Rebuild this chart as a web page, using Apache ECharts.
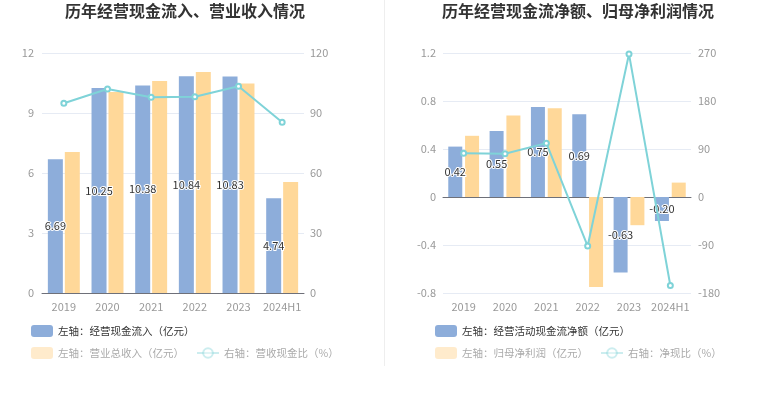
<!DOCTYPE html>
<html>
<head>
<meta charset="utf-8">
<script src="https://cdn.jsdelivr.net/npm/echarts@6/dist/echarts.min.js"></script>
<style>
html,body{margin:0;padding:0;background:#fff;}
#c{width:765px;height:393px;}
</style>
</head>
<body>
<div id="c"></div>
<script>
const categories = ['2019','2020','2021','2022','2023','2024H1'];
// Left chart
const cashInflow = [6.69,10.25,10.38,10.84,10.83,4.74];
const revenue = [7.05,10.05,10.6,11.05,10.47,5.55];
const cashRevenueRatio = [94.9,102,97.9,98.1,103.4,85.4];
// Right chart
const netOperatingCash = [0.42,0.55,0.75,0.69,-0.63,-0.20];
const netProfit = [0.51,0.68,0.74,-0.75,-0.235,0.12];
const netCashRatio = [82,81,101,-92,268,-166];

const leftTicks = {min:0,max:12,interval:3};
const leftRightTicks = {min:0,max:120,interval:30};
const rightTicks = {min:-0.8,max:1.2,interval:0.4};
const rightRightTicks = {min:-180,max:270,interval:90};

const names = {
  a1:'左轴：经营现金流入（亿元）', a2:'左轴：营业总收入（亿元）', a3:'右轴：营收现金比（%）',
  b1:'左轴：经营活动现金流净额（亿元）', b2:'左轴：归母净利润（亿元）', b3:'右轴：净现比（%）'
};

const BLUE = '#8DADDA', ORANGE = '#FFD899', CYAN = '#7FD3D8';
const FONT = '"Noto Sans CJK SC","Noto Sans",sans-serif';
const axisLabel = {color:'#999', fontSize:11, fontFamily:FONT};
const splitLine = {show:true, lineStyle:{color:'#E6EBF4'}};
const barLabel = {show:true, position:'inside', color:'#333', fontSize:11, fontFamily:FONT,
  textBorderColor:'#fff', textBorderWidth:2, formatter:p=>p.value.toFixed(2)};
const LFS = 10.5;

const chart = echarts.init(document.getElementById('c'), null, {renderer:'canvas'});
chart.setOption({
  backgroundColor:'#fff',
  animation:false,
  textStyle:{fontFamily:FONT},
  title:[
    {text:'历年经营现金流入、营业收入情况', left:65, top:3, padding:0, textStyle:{fontSize:16, fontWeight:'bold', color:'#333', fontFamily:FONT}},
    {text:'历年经营现金流净额、归母净利润情况', left:442, top:3, padding:0, textStyle:{fontSize:16, fontWeight:'bold', color:'#333', fontFamily:FONT}}
  ],
  graphic:[{type:'line', shape:{x1:384.5,y1:0,x2:384.5,y2:366}, style:{stroke:'#EEEEEE', lineWidth:1}}],
  legend:[
    {data:[names.a1], left:31, top:325, padding:0, itemWidth:22, itemHeight:12, textStyle:{color:'#333', fontSize:LFS, fontFamily:FONT}},
    {data:[{name:names.a2, itemStyle:{opacity:0.5}, textStyle:{color:'#aaa'}},
           {name:names.a3, itemStyle:{opacity:0.4}, lineStyle:{opacity:0.4}, textStyle:{color:'#aaa'}}],
     left:31, top:347, padding:0, itemGap:12, itemWidth:22, itemHeight:12, textStyle:{color:'#aaa', fontSize:LFS, fontFamily:FONT}},
    {data:[names.b1], left:435, top:325, padding:0, itemWidth:22, itemHeight:12, textStyle:{color:'#333', fontSize:LFS, fontFamily:FONT}},
    {data:[{name:names.b2, itemStyle:{opacity:0.5}, textStyle:{color:'#aaa'}},
           {name:names.b3, itemStyle:{opacity:0.4}, lineStyle:{opacity:0.4}, textStyle:{color:'#aaa'}}],
     left:435, top:347, padding:0, itemGap:12, itemWidth:22, itemHeight:12, textStyle:{color:'#aaa', fontSize:LFS, fontFamily:FONT}}
  ],
  grid:[
    {left:42, right:461, top:53, bottom:100},
    {left:443, right:74, top:53, bottom:100}
  ],
  xAxis:[
    {type:'category', gridIndex:0, data:categories, axisLine:{lineStyle:{color:'#6E7079'}},
     axisTick:{alignWithLabel:true, lineStyle:{color:'#6E7079'}}, axisLabel:Object.assign({margin:8, interval:0}, axisLabel)},
    {type:'category', gridIndex:1, data:categories, axisLine:{onZero:true, lineStyle:{color:'#6E7079'}},
     axisTick:{alignWithLabel:true, lineStyle:{color:'#6E7079'}}, axisLabel:{show:false}},
    {type:'category', gridIndex:1, data:categories, position:'bottom', axisLine:{show:false, onZero:false},
     axisTick:{show:false}, axisLabel:Object.assign({margin:8, interval:0}, axisLabel)}
  ],
  yAxis:[
    Object.assign({type:'value', gridIndex:0, axisLabel:Object.assign({margin:8}, axisLabel), splitLine:splitLine, axisLine:{show:false}, axisTick:{show:false}}, leftTicks),
    Object.assign({type:'value', gridIndex:0, position:'right', axisLabel:Object.assign({margin:6}, axisLabel), splitLine:{show:false}, axisLine:{show:false}, axisTick:{show:false}}, leftRightTicks),
    Object.assign({type:'value', gridIndex:1, axisLabel:Object.assign({margin:7}, axisLabel), splitLine:splitLine, axisLine:{show:false}, axisTick:{show:false}}, rightTicks),
    Object.assign({type:'value', gridIndex:1, position:'right', axisLabel:Object.assign({margin:7}, axisLabel), splitLine:{show:false}, axisLine:{show:false}, axisTick:{show:false}}, rightRightTicks)
  ],
  series:[
    {name:names.a1, type:'bar', xAxisIndex:0, yAxisIndex:0, data:cashInflow, barWidth:15, barGap:'13%',
     itemStyle:{color:BLUE}, label:barLabel, z:2},
    {name:names.a2, type:'bar', xAxisIndex:0, yAxisIndex:0, data:revenue, barWidth:15, barGap:'13%',
     itemStyle:{color:ORANGE}, z:1},
    {name:names.a3, type:'line', xAxisIndex:0, yAxisIndex:1, data:cashRevenueRatio, symbol:'emptyCircle', symbolSize:5,
     lineStyle:{color:CYAN, width:2}, itemStyle:{color:CYAN}, z:5},
    {name:names.b1, type:'bar', xAxisIndex:1, yAxisIndex:2, data:netOperatingCash, barWidth:14, barGap:'20%',
     itemStyle:{color:BLUE}, label:barLabel, z:2},
    {name:names.b2, type:'bar', xAxisIndex:1, yAxisIndex:2, data:netProfit, barWidth:14, barGap:'20%',
     itemStyle:{color:ORANGE}, z:1},
    {name:names.b3, type:'line', xAxisIndex:1, yAxisIndex:3, data:netCashRatio, symbol:'emptyCircle', symbolSize:5,
     lineStyle:{color:CYAN, width:2}, itemStyle:{color:CYAN}, z:5}
  ]
});
</script>
</body>
</html>
